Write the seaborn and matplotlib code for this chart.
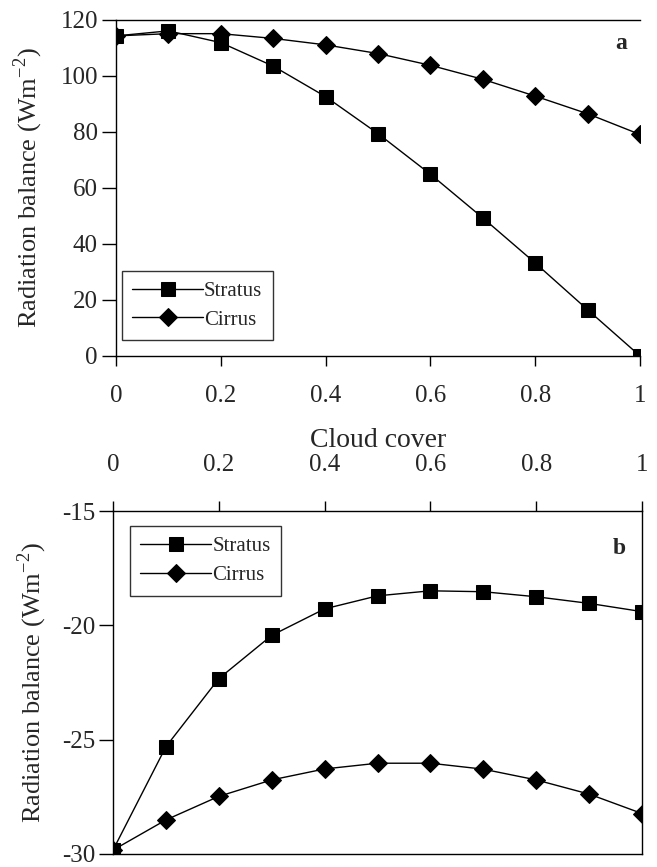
import pandas as pd
import matplotlib
matplotlib.use('Agg')
import matplotlib.pyplot as plt
import seaborn as sns

sns.set_theme(style='white')
plt.rcParams['font.family'] = ['Liberation Serif', 'DejaVu Serif']
plt.rcParams['mathtext.fontset'] = 'custom'
plt.rcParams['mathtext.rm'] = 'Liberation Serif'
plt.rcParams['axes.unicode_minus'] = False

# data
cover = [0, 0.1, 0.2, 0.3, 0.4, 0.5, 0.6, 0.7, 0.8, 0.9, 1.0]
stratus_a = [114.3, 116.1, 111.9, 103.5, 92.6, 79.4, 64.9, 49.3, 33.2, 16.5, 0.0]
cirrus_a = [114.3, 115.1, 115.1, 113.4, 111.1, 108.0, 103.8, 98.8, 92.8, 86.5, 79.1]
stratus_b = [-29.83, -25.31, -22.33, -20.44, -19.28, -18.71, -18.49, -18.53, -18.75, -19.04, -19.40]
cirrus_b = [-29.83, -28.51, -27.48, -26.76, -26.28, -26.03, -26.03, -26.29, -26.76, -27.38, -28.23]
xticks = [0, 0.2, 0.4, 0.6, 0.8, 1]
xtick_labels = ['0', '0.2', '0.4', '0.6', '0.8', '1']
yticks_a = [0, 20, 40, 60, 80, 100, 120]
yticks_b = [-30, -25, -20, -15]

YLABEL = 'Radiation balance (Wm$^{\\mathrm{-2}}$)'


def to_long(stratus, cirrus):
    """ Build long table for seaborn;
    """
    return pd.DataFrame({
        'Cloud cover': cover * 2,
        'Balance': stratus + cirrus,
        'Cloud': ['Stratus'] * len(cover) + ['Cirrus'] * len(cover),
    })


def draw(ax, df):
    sns.lineplot(data=df, x='Cloud cover', y='Balance', hue='Cloud', style='Cloud',
                 markers={'Stratus': 's', 'Cirrus': 'D'}, dashes=False,
                 palette={'Stratus': 'black', 'Cirrus': 'black'},
                 markersize=9.5, linewidth=1, markeredgecolor='black', ax=ax)
    handles, labels = ax.get_legend_handles_labels()
    ax.get_legend().remove()
    return handles, labels


def add_legend(ax, h, l, **kw):
    ax.legend(h, l, fontsize=15, frameon=True, fancybox=False, edgecolor='black',
              handlelength=3.4, handletextpad=0.05, borderpad=0.5, labelspacing=0.45,
              borderaxespad=0, **kw)
    ax.get_legend().get_frame().set_linewidth(1)


fig = plt.figure(figsize=(6.57, 8.67), dpi=100)
ax_a = fig.add_axes([0.1766, 0.5894, 0.7976, 0.3876])
ax_b = fig.add_axes([0.1720, 0.0150, 0.8052, 0.3956])

# panel a
h, l = draw(ax_a, to_long(stratus_a, cirrus_a))
ax_a.set_xlim(0, 1)
ax_a.set_ylim(0, 120)
ax_a.set_xticks(xticks)
ax_a.set_xticklabels(xtick_labels)
ax_a.set_yticks(yticks_a)
ax_a.spines['right'].set_visible(False)
ax_a.tick_params(axis='x', direction='out', length=7, width=1, pad=14, labelsize=18, color='black', bottom=True)
ax_a.tick_params(axis='y', direction='out', length=10, width=1, pad=3, labelsize=18, color='black', left=True)
ax_a.set_xlabel('Cloud cover', fontsize=20, labelpad=15)
ax_a.set_ylabel(YLABEL, fontsize=19, labelpad=11)
add_legend(ax_a, h, l, loc='lower left', bbox_to_anchor=(0.011, 0.047))
ax_a.text(0.975, 0.93, 'a', transform=ax_a.transAxes, fontsize=17, fontweight='bold', ha='right', va='center')

# panel b
h, l = draw(ax_b, to_long(stratus_b, cirrus_b))
ax_b.set_xlim(0, 1)
ax_b.set_ylim(-30, -15)
ax_b.set_xticks(xticks)
ax_b.set_xticklabels(xtick_labels)
ax_b.set_yticks(yticks_b)
ax_b.xaxis.tick_top()
ax_b.tick_params(axis='x', direction='out', length=7, width=1, pad=18, labelsize=18, color='black', top=True, bottom=False)
ax_b.tick_params(axis='y', direction='out', length=10, width=1, pad=3, labelsize=18, color='black', left=True)
ax_b.set_xlabel('')
ax_b.set_ylabel(YLABEL, fontsize=19, labelpad=9)
add_legend(ax_b, h, l, loc='upper left', bbox_to_anchor=(0.032, 0.955))
ax_b.text(0.97, 0.89, 'b', transform=ax_b.transAxes, fontsize=17, fontweight='bold', ha='right', va='center')

for ax in (ax_a, ax_b):
    for s in ax.spines.values():
        s.set_color('black')
        s.set_linewidth(1)

fig.savefig('out.png', dpi=100)
